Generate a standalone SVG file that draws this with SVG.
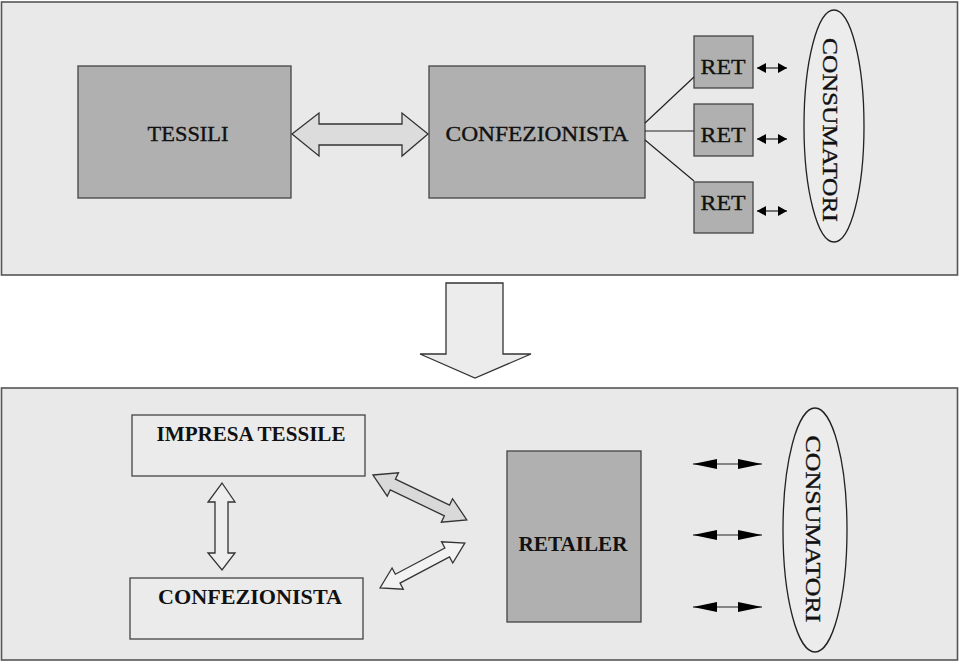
<svg xmlns="http://www.w3.org/2000/svg" width="960" height="662" viewBox="0 0 960 662">
<defs>
<style>
.panel{fill:#e9e9e9;stroke:#555;stroke-width:1.6}
.box{fill:#b0b0b0;stroke:#444;stroke-width:1.3}
.wbox{fill:#ebebeb;stroke:#444;stroke-width:1.3}
.arr{stroke:#333;stroke-width:1.3;stroke-linejoin:miter}
.t{font-family:"Liberation Serif","Times New Roman",serif;font-size:21px;fill:#111;text-anchor:middle;stroke:#111;stroke-width:0.35}
.b{font-weight:bold;stroke:none}
.ln{stroke:#222;stroke-width:1.2;fill:none}
.ell{fill:#ececec;stroke:#222;stroke-width:1.3}
</style>
<marker id="ah" viewBox="0 0 10 10" refX="10" refY="5" markerWidth="9" markerHeight="10" markerUnits="userSpaceOnUse" orient="auto-start-reverse" preserveAspectRatio="none">
<path d="M0,0 L10,5 L0,10 Z" fill="#000"/>
</marker>
<marker id="ah2" viewBox="0 0 10 10" refX="10" refY="5" markerWidth="24" markerHeight="10" markerUnits="userSpaceOnUse" orient="auto-start-reverse" preserveAspectRatio="none">
<path d="M0,0 L10,5 L0,10 Z" fill="#000"/>
</marker>
</defs>
<rect x="0" y="0" width="960" height="662" fill="#fff"/>
<rect id="panel-top" class="panel" x="1.5" y="2" width="956" height="273"/>
<rect id="panel-bottom" class="panel" x="1.5" y="388" width="956" height="272"/>

<g id="tessili"><rect class="box" x="78" y="66" width="213" height="132"/><text class="t" x="188" y="141" textLength="81" lengthAdjust="spacingAndGlyphs">TESSILI</text></g>
<g id="confezionista-top"><rect class="box" x="429" y="66" width="216" height="132"/><text class="t" x="537" y="141" textLength="183" lengthAdjust="spacingAndGlyphs">CONFEZIONISTA</text></g>
<g id="ret1"><rect class="box" x="694" y="36" width="59" height="52"/><text class="t" x="723" y="74" textLength="45" lengthAdjust="spacingAndGlyphs">RET</text></g>
<g id="ret2"><rect class="box" x="694" y="104" width="59" height="52"/><text class="t" x="723" y="142" textLength="45" lengthAdjust="spacingAndGlyphs">RET</text></g>
<g id="ret3"><rect class="box" x="694" y="182" width="59" height="51"/><text class="t" x="723" y="210" textLength="45" lengthAdjust="spacingAndGlyphs">RET</text></g>
<g id="consumatori-top"><ellipse class="ell" cx="834" cy="126" rx="30" ry="116"/><text class="t" x="0" y="0" transform="translate(830,130) rotate(90)" dominant-baseline="central" font-size="22" textLength="184" lengthAdjust="spacingAndGlyphs">CONSUMATORI</text></g>

<g id="impresa-tessile"><rect class="wbox" x="132" y="415" width="233" height="61"/><text class="t b" x="251" y="441" font-size="21" textLength="189" lengthAdjust="spacingAndGlyphs">IMPRESA TESSILE</text></g>
<g id="confezionista-bottom"><rect class="wbox" x="130" y="578" width="233" height="61"/><text class="t b" x="250" y="604" font-size="21" textLength="184" lengthAdjust="spacingAndGlyphs">CONFEZIONISTA</text></g>
<g id="retailer"><rect class="box" x="507" y="451" width="134" height="171"/><text class="t b" x="573" y="551" font-size="21" textLength="109" lengthAdjust="spacingAndGlyphs">RETAILER</text></g>
<g id="consumatori-bottom"><ellipse class="ell" cx="815" cy="530" rx="32" ry="122"/><text class="t" x="0" y="0" transform="translate(813,529) rotate(90)" dominant-baseline="central" font-size="22" textLength="187" lengthAdjust="spacingAndGlyphs">CONSUMATORI</text></g>

<g id="connectors">
<path class="arr" fill="#dcdcdc" d="M292,134 L319,113 L319,124 L402,124 L402,113 L428,134 L402,156 L402,145 L319,145 L319,156 Z"/>
<line class="ln" x1="645" y1="123" x2="694" y2="77"/>
<line class="ln" x1="645" y1="131" x2="694" y2="131"/>
<line class="ln" x1="645" y1="140" x2="694" y2="181"/>
<line class="ln" x1="757" y1="68" x2="787" y2="68" marker-start="url(#ah)" marker-end="url(#ah)"/>
<line class="ln" x1="757" y1="139" x2="787" y2="139" marker-start="url(#ah)" marker-end="url(#ah)"/>
<line class="ln" x1="757" y1="211" x2="787" y2="211" marker-start="url(#ah)" marker-end="url(#ah)"/>
<path class="arr" fill="#ececec" d="M446,283 L503,283 L503,354 L531,354 L475,378 L420,354 L446,354 Z"/>
<path class="arr" fill="#eeeeee" d="M222,483 L235,502 L228,502 L228,553 L235,553 L222,570 L208,553 L215,553 L215,502 L208,502 Z"/>
<path class="arr" fill="#d9d9d9" transform="translate(373,475) rotate(25.6)" d="M0,0 L22,-13 L22,-6 L82,-6 L82,-13 L104,0 L82,13 L82,6 L22,6 L22,13 Z"/>
<path class="arr" fill="#f2f2f2" transform="translate(380,588) rotate(-27.9)" d="M0,0 L20,-12 L20,-5 L76,-5 L76,-12 L96,0 L76,12 L76,5 L20,5 L20,12 Z"/>
<line class="ln" x1="693" y1="464" x2="762" y2="464" marker-start="url(#ah2)" marker-end="url(#ah2)"/>
<line class="ln" x1="693" y1="535" x2="762" y2="535" marker-start="url(#ah2)" marker-end="url(#ah2)"/>
<line class="ln" x1="693" y1="607" x2="762" y2="607" marker-start="url(#ah2)" marker-end="url(#ah2)"/>
</g>
</svg>
